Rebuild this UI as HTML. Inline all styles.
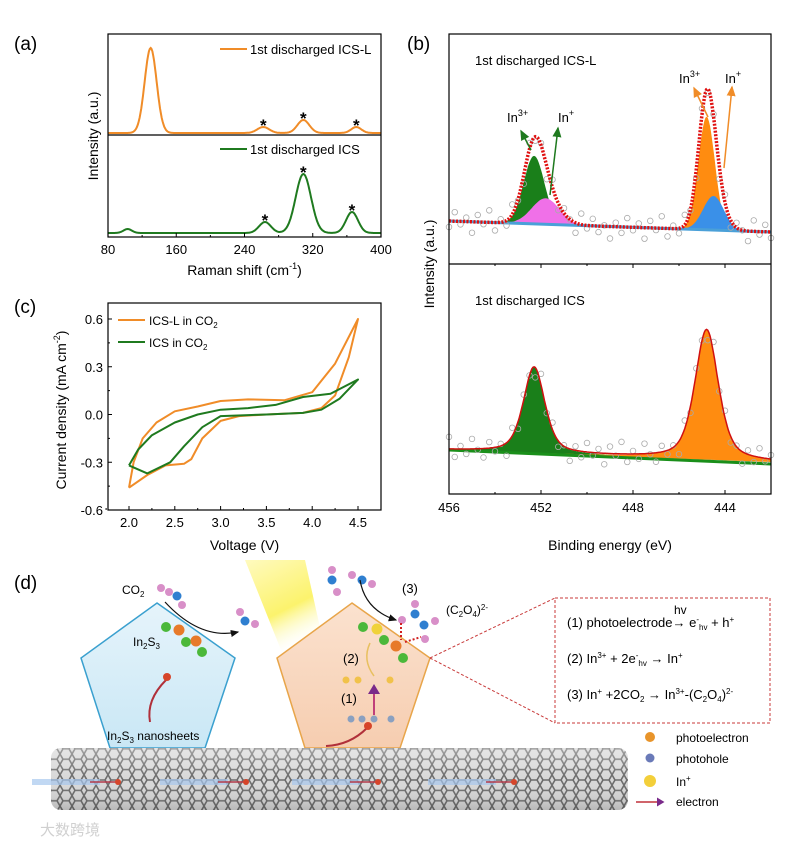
<!DOCTYPE html>
<html><head><meta charset="utf-8">
<style>
html,body{margin:0;padding:0;background:#fff;}
svg{display:block;font-family:"Liberation Sans","Noto Sans CJK SC",sans-serif;}
</style></head>
<body>
<svg id="fig" width="800" height="845" viewBox="0 0 800 845" xmlns="http://www.w3.org/2000/svg">
<defs>
  <pattern id="hex" width="12" height="10.4" patternUnits="userSpaceOnUse">
    <path d="M0 5.2 L3 0 L9 0 L12 5.2 L9 10.4 L3 10.4 Z" fill="none" stroke="#6b6b6b" stroke-width="1.6"/>
  </pattern>
  <linearGradient id="tubeShade" x1="0" y1="0" x2="0" y2="1">
    <stop offset="0" stop-color="#fff" stop-opacity="0.35"/>
    <stop offset="0.5" stop-color="#fff" stop-opacity="0"/>
    <stop offset="1" stop-color="#000" stop-opacity="0.15"/>
  </linearGradient>
  <linearGradient id="bluePent" x1="0" y1="0" x2="0" y2="1">
    <stop offset="0" stop-color="#e6f4fb"/><stop offset="1" stop-color="#c9e7f5"/>
  </linearGradient>
  <linearGradient id="orPent" x1="0" y1="0" x2="0" y2="1">
    <stop offset="0" stop-color="#fbe2cf"/><stop offset="1" stop-color="#f6cdb0"/>
  </linearGradient>
  <linearGradient id="beam" x1="0" y1="0" x2="0.4" y2="1">
    <stop offset="0" stop-color="#fff9b0" stop-opacity="0.9"/><stop offset="0.6" stop-color="#fbf04a" stop-opacity="0.9"/><stop offset="1" stop-color="#fff" stop-opacity="0"/>
  </linearGradient>
  <marker id="arrBlk" markerWidth="8" markerHeight="8" refX="6" refY="4" orient="auto"><path d="M0 1 L7 4 L0 7 Z" fill="#111"/></marker>
  <marker id="arrGrn" markerWidth="8" markerHeight="8" refX="6" refY="4" orient="auto"><path d="M0 1 L7 4 L0 7 Z" fill="#1f7a1f"/></marker>
  <marker id="arrOr" markerWidth="8" markerHeight="8" refX="6" refY="4" orient="auto"><path d="M0 1 L7 4 L0 7 Z" fill="#f08c28"/></marker>
  <marker id="arrPur" markerWidth="6" markerHeight="6" refX="4" refY="3" orient="auto"><path d="M0 0 L5 3 L0 6 Z" fill="#7a2a8a"/></marker>
</defs>

<text x="14" y="50" font-size="19">(a)</text>
<text x="407" y="50" font-size="19">(b)</text>
<text x="14" y="313" font-size="19">(c)</text>
<text x="14" y="589" font-size="19">(d)</text>

<g id="ga"></g>
<g id="gb"></g>
<g id="gc"></g>

<g>
  <polygon points="245,560 305,560 325,650 285,660" fill="url(#beam)" opacity="0.9"/>
  <polygon points="157,603 235,658 205,748 110,748 81,658" fill="url(#bluePent)" stroke="#3aa0cf" stroke-width="1.5"/>
  <polygon points="352,603 430,658 400,748 305,748 277,658" fill="url(#orPent)" stroke="#e8a54a" stroke-width="1.5"/>
  <g>
    <rect x="51" y="748" width="577" height="62" rx="10" fill="#d8d8d8"/>
    <rect x="51" y="748" width="577" height="62" rx="10" fill="url(#hex)"/>
    <rect x="51" y="748" width="577" height="62" rx="10" fill="url(#tubeShade)"/>
    <g stroke="#a8c8ee" stroke-width="6" opacity="0.7">
      <line x1="32" y1="782" x2="100" y2="782"/><line x1="160" y1="782" x2="228" y2="782"/>
      <line x1="292" y1="782" x2="360" y2="782"/><line x1="428" y1="782" x2="496" y2="782"/>
    </g>
    <g stroke="#b23a4a" stroke-width="1.5">
      <line x1="90" y1="782" x2="118" y2="782"/><line x1="218" y1="782" x2="246" y2="782"/>
      <line x1="350" y1="782" x2="378" y2="782"/><line x1="486" y1="782" x2="514" y2="782"/>
    </g>
    <g fill="#d6452a"><circle cx="118" cy="782" r="3"/><circle cx="246" cy="782" r="3"/><circle cx="378" cy="782" r="3"/><circle cx="514" cy="782" r="3"/></g>
  </g>
  <g>
    <circle cx="169" cy="592" r="4" fill="#d88fc8"/><circle cx="161" cy="588" r="4" fill="#d88fc8"/><circle cx="177" cy="596" r="4.5" fill="#2f7fd0"/><circle cx="182" cy="605" r="4" fill="#d88fc8"/>
    <circle cx="240" cy="612" r="4" fill="#d88fc8"/><circle cx="245" cy="621" r="4.5" fill="#2f7fd0"/><circle cx="255" cy="624" r="4" fill="#d88fc8"/>
    <circle cx="332" cy="570" r="4" fill="#d88fc8"/><circle cx="332" cy="580" r="4.5" fill="#2f7fd0"/><circle cx="337" cy="592" r="4" fill="#d88fc8"/>
    <circle cx="352" cy="575" r="4" fill="#d88fc8"/><circle cx="362" cy="580" r="4.5" fill="#2f7fd0"/><circle cx="372" cy="584" r="4" fill="#d88fc8"/>
    <circle cx="415" cy="604" r="4" fill="#d88fc8"/><circle cx="415" cy="614" r="4.5" fill="#2f7fd0"/><circle cx="424" cy="625" r="4.5" fill="#2f7fd0"/><circle cx="435" cy="621" r="4" fill="#d88fc8"/><circle cx="425" cy="639" r="4" fill="#d88fc8"/><circle cx="402" cy="620" r="4" fill="#d88fc8"/>
  </g>
  <g>
    <circle cx="166" cy="627" r="5" fill="#4bb83a"/><circle cx="179" cy="630" r="5.5" fill="#e77a2a"/><circle cx="186" cy="642" r="5" fill="#4bb83a"/><circle cx="196" cy="641" r="5.5" fill="#e77a2a"/><circle cx="202" cy="652" r="5" fill="#4bb83a"/>
    <circle cx="363" cy="627" r="5" fill="#4bb83a"/><circle cx="377" cy="629" r="5.5" fill="#f0d23a"/><circle cx="384" cy="640" r="5" fill="#4bb83a"/><circle cx="396" cy="646" r="5.5" fill="#e77a2a"/><circle cx="403" cy="658" r="5" fill="#4bb83a"/>
    <circle cx="346" cy="680" r="3.5" fill="#f1c24a"/><circle cx="358" cy="680" r="3.5" fill="#f1c24a"/><circle cx="390" cy="680" r="3.5" fill="#f1c24a"/>
    <circle cx="351" cy="719" r="3.5" fill="#8aa0c0"/><circle cx="362" cy="719" r="3.5" fill="#8aa0c0"/><circle cx="374" cy="719" r="3.5" fill="#8aa0c0"/><circle cx="391" cy="719" r="3.5" fill="#8aa0c0"/>
  </g>
  <path d="M165 602 Q200 640 238 632" fill="none" stroke="#111" stroke-width="1.2" marker-end="url(#arrBlk)"/>
  <path d="M360 580 Q365 610 396 620" fill="none" stroke="#111" stroke-width="1.2" marker-end="url(#arrBlk)"/>
  <line x1="374" y1="715" x2="374" y2="686" stroke="#c0407a" stroke-width="2" marker-end="url(#arrPur)"/>
  <path d="M374 676 Q362 660 370 643" fill="none" stroke="#e8c060" stroke-width="1.5"/>
  <path d="M166 680 Q146 700 150 722" fill="none" stroke="#b0303a" stroke-width="2"/><circle cx="167" cy="677" r="4" fill="#d6452a"/>
  <path d="M367 728 Q350 745 326 746" fill="none" stroke="#b0303a" stroke-width="2"/><circle cx="368" cy="726" r="4" fill="#d6452a"/>
  <g stroke="#d02020" stroke-width="2" stroke-dasharray="2,2"><line x1="401" y1="623" x2="401" y2="640"/><line x1="405" y1="642" x2="421" y2="637"/></g>
  <text x="122" y="594" font-size="12">CO<tspan font-size="8" dy="3">2</tspan></text>
  <text x="133" y="646" font-size="12">In<tspan font-size="8" dy="3">2</tspan><tspan dy="-3">S</tspan><tspan font-size="8" dy="3">3</tspan></text>
  <text x="107" y="740" font-size="12">In<tspan font-size="8" dy="3">2</tspan><tspan dy="-3">S</tspan><tspan font-size="8" dy="3">3</tspan><tspan dy="-3"> nanosheets</tspan></text>
  <text x="343" y="663" font-size="13">(2)</text>
  <text x="341" y="703" font-size="13">(1)</text>
  <text x="402" y="593" font-size="13">(3)</text>
  <text x="446" y="614" font-size="12">(C<tspan font-size="8" dy="3">2</tspan><tspan dy="-3">O</tspan><tspan font-size="8" dy="3">4</tspan><tspan dy="-3">)</tspan><tspan font-size="8" dy="-4">2-</tspan></text>
  <g stroke="#c83a3a" stroke-width="1" stroke-dasharray="3,2" fill="none">
    <rect x="555" y="598" width="215" height="125"/>
    <line x1="430" y1="658" x2="555" y2="598"/><line x1="430" y1="658" x2="555" y2="723"/>
  </g>
  <text x="567" y="627" font-size="13">(1) photoelectrode→ e<tspan font-size="8" dy="-5">-</tspan><tspan font-size="8" dy="8">hv</tspan><tspan dy="-3"> + h</tspan><tspan font-size="8" dy="-5">+</tspan></text>
  <text x="674" y="614" font-size="12">hv</text>
  <text x="567" y="663" font-size="13">(2) In<tspan font-size="8" dy="-5">3+</tspan><tspan dy="5"> + 2e</tspan><tspan font-size="8" dy="-5">-</tspan><tspan font-size="8" dy="8">hv</tspan><tspan dy="-3"> → In</tspan><tspan font-size="8" dy="-5">+</tspan></text>
  <text x="567" y="699" font-size="13">(3) In<tspan font-size="8" dy="-5">+</tspan><tspan dy="5"> +2CO</tspan><tspan font-size="8" dy="3">2</tspan><tspan dy="-3"> → In</tspan><tspan font-size="8" dy="-5">3+</tspan><tspan dy="5">-(C</tspan><tspan font-size="8" dy="3">2</tspan><tspan dy="-3">O</tspan><tspan font-size="8" dy="3">4</tspan><tspan dy="-3">)</tspan><tspan font-size="8" dy="-5">2-</tspan></text>
  <g>
    <circle cx="650" cy="737" r="5" fill="#e8942a"/><text x="676" y="742" font-size="12">photoelectron</text>
    <circle cx="650" cy="758" r="4.5" fill="#6a7ab8"/><text x="676" y="763" font-size="12">photohole</text>
    <circle cx="650" cy="781" r="6" fill="#f3cf3a"/><text x="676" y="786" font-size="12">In<tspan font-size="8" dy="-5">+</tspan></text>
    <line x1="636" y1="802" x2="663" y2="802" stroke="#c0303a" stroke-width="1.5" marker-end="url(#arrPur)"/><text x="676" y="806" font-size="12">electron</text>
  </g>
  <text x="40" y="835" font-size="15" fill="#d0d0d0">大数跨境</text>
</g>
</svg>

<script>
const NS='http://www.w3.org/2000/svg';
function mk(tag,attrs,parent){const e=document.createElementNS(NS,tag);for(const k in attrs)e.setAttribute(k,attrs[k]);parent.appendChild(e);return e;}

/* ---------- Panel (a) Raman data ---------- */
const ramanTicks=[80,160,240,320,400];
const ramanL_centers=[130,262,309,371];
const ramanL_heights=[85,6,13,6];
const ramanL_sigmas=[7,7,7,6];
const ramanI_centers=[103,264,309,366];
const ramanI_heights=[4,11,59,21];
const ramanI_sigmas=[5,7,9,7];
const ramanStarsL=[262,309,371];
const ramanStarsI=[264,309,366];

/* ---------- Panel (b) XPS data ---------- */
const xpsTicks=[456,452,448,444];
const xpsTop_centers=[452.3,451.8,444.8,444.5];
const xpsTop_heights=[68,26,113,34];
const xpsTop_sigmas=[0.45,0.6,0.36,0.45];
const xpsTop_colors=['#1a7f1a','#f070e8','#ff8c10','#3a90e8'];
const xpsBot_centers=[452.3,444.8];
const xpsBot_heights=[86,130];
const xpsBot_widths=[0.55,0.6];
const xpsNoise=[6,-9,3,-4,11,-7,2,-12,8,-3,5,-10,1,9,-6,4,-2,13,-8,7,-5,0,10,-11,3,-7,6,-1,12,-4];

/* ---------- Panel (c) CV data ---------- */
const cvTicksX=[2.0,2.5,3.0,3.5,4.0,4.5];
const cvTicksY=[-0.6,-0.3,0.0,0.3,0.6];
const cvL_V=[2.0,2.05,2.15,2.3,2.5,2.75,3.0,3.3,3.7,4.0,4.25,4.5,4.4,4.25,4.1,3.9,3.5,3.2,3.0,2.8,2.68,2.6,2.4,2.2,2.0];
const cvL_J=[-0.46,-0.3,-0.15,-0.05,0.02,0.05,0.085,0.095,0.09,0.14,0.32,0.6,0.36,0.12,0.04,0.01,0.0,-0.01,-0.04,-0.15,-0.28,-0.31,-0.32,-0.38,-0.46];
const cvI_V=[2.0,2.1,2.25,2.5,2.75,3.0,3.3,3.6,3.9,4.2,4.5,4.3,4.1,3.9,3.5,3.0,2.8,2.6,2.45,2.2,2.0];
const cvI_J=[-0.32,-0.22,-0.13,-0.05,0.0,0.03,0.04,0.06,0.11,0.13,0.22,0.1,0.03,0.01,0.0,-0.01,-0.08,-0.2,-0.3,-0.37,-0.32];

function gauss(x,c,h,s){return h*Math.exp(-0.5*((x-c)/s)**2);}
function pv(x,c,h,w){const g=Math.exp(-0.693*((x-c)/w)**2),l=1/(1+((x-c)/w)**2);return h*(0.5*g+0.5*l);}

(function(){
  const g=document.getElementById('ga');
  const L=108,R=381,T=34,B=237,M=135;
  const X=v=>L+(v-80)*(R-L)/320;
  const YL=i=>133-i, YI=i=>233-i;
  function curve(cs,hs,ss,Y,col,name){
    let d='';for(let v=80;v<=400;v+=1){let s=0;for(let k=0;k<cs.length;k++)s+=gauss(v,cs[k],hs[k],ss[k]);d+=(v===80?'M':'L')+X(v).toFixed(1)+' '+Y(s).toFixed(1);}
    const p=mk('path',{d:d,fill:'none',stroke:col,'stroke-width':2},g);
    
    
  }
  curve(ramanL_centers,ramanL_heights,ramanL_sigmas,YL,'#f08c28','raman-ics-l-line');
  curve(ramanI_centers,ramanI_heights,ramanI_sigmas,YI,'#1f7a1f','raman-ics-line');
  function stars(arr,cs,hs,ss,Y){arr.forEach(c=>{let s=0;for(let k=0;k<cs.length;k++)s+=gauss(c,cs[k],hs[k],ss[k]);const t=mk('text',{x:X(c),y:Y(s)+4,'font-size':17,'text-anchor':'middle','font-weight':'bold'},g);t.textContent='*';
    
    });}
  stars(ramanStarsL,ramanL_centers,ramanL_heights,ramanL_sigmas,YL);
  stars(ramanStarsI,ramanI_centers,ramanI_heights,ramanI_sigmas,YI);
  const f=mk('rect',{x:L,y:T,width:R-L,height:B-T,fill:'none',stroke:'#000','stroke-width':1.2},g);
  
  
  mk('line',{x1:L,y1:M,x2:R,y2:M,stroke:'#000','stroke-width':1.2},g);
  ramanTicks.forEach((v,i)=>{mk('line',{x1:X(v),y1:B,x2:X(v),y2:B-4,stroke:'#000'},g);
    if(i<ramanTicks.length-1) mk('line',{x1:X(v+40),y1:B,x2:X(v+40),y2:B-2,stroke:'#000'},g);
    const t=mk('text',{x:X(v),y:B+17,'font-size':13,'text-anchor':'middle'},g);t.textContent=v;
    
    });
  const xt=mk('text',{x:(L+R)/2,y:275,'font-size':14,'text-anchor':'middle'},g);
  xt.innerHTML='Raman shift (cm<tspan font-size="9" dy="-6">-1</tspan><tspan dy="6">)</tspan>';
  
  
  const yt=mk('text',{x:0,y:0,'font-size':14,'text-anchor':'middle',transform:'translate(98,136) rotate(-90)'},g);yt.textContent='Intensity (a.u.)';
  
  
  [['#f08c28','1st discharged ICS-L',49],['#1f7a1f','1st discharged ICS',149]].forEach(([c,s,y])=>{
    mk('line',{x1:220,y1:y,x2:247,y2:y,stroke:c,'stroke-width':2},g);
    const t=mk('text',{x:250,y:y+5,'font-size':13},g);t.textContent=s;
    
    });
})();

(function(){
  const g=document.getElementById('gb');
  const L=449,R=771,T=34,B=494,M=264;
  const X=e=>L+(456-e)*(R-L)/14;
  const baseT=e=>221+(456-e)*11/14, baseB=e=>450+(456-e)*12/14;
  const E=[];for(let e=456;e>=442-1e-9;e-=0.05)E.push(+e.toFixed(2));
  xpsTop_centers.forEach((c,k)=>{
    let d='M'+X(456)+' '+baseT(456);
    E.forEach(e=>{d+='L'+X(e).toFixed(1)+' '+(baseT(e)-gauss(e,c,xpsTop_heights[k],xpsTop_sigmas[k])).toFixed(1);});
    d+='L'+X(442)+' '+baseT(442)+'Z';
    const p=mk('path',{d:d,fill:xpsTop_colors[k],stroke:'none'},g);
    
    
  });
  mk('line',{x1:X(456),y1:baseT(456),x2:X(442),y2:baseT(442),stroke:'#4aa0d8','stroke-width':3},g);
  const sumT=e=>{let s=0;xpsTop_centers.forEach((c,k)=>s+=gauss(e,c,xpsTop_heights[k],xpsTop_sigmas[k]));return s;};
  E.forEach((e,i)=>{if(i%5)return;const n=xpsNoise[(i/5)%xpsNoise.length];
    const c=mk('circle',{cx:X(e),cy:baseT(e)-sumT(e)+n,r:2.8,fill:'none',stroke:'#aaa','stroke-width':0.8},g);
    
    });
  let dT='';E.forEach((e,i)=>{dT+=(i?'L':'M')+X(e).toFixed(1)+' '+(baseT(e)-sumT(e)).toFixed(1);});
  const env=mk('path',{d:dT,fill:'none',stroke:'#e01010','stroke-width':3.5,'stroke-dasharray':'2,1.5'},g);
  
  
  const bcol=['#1a7f1a','#ff8c10'];
  xpsBot_centers.forEach((c,k)=>{
    let d='M'+X(456)+' '+baseB(456);
    E.forEach(e=>{d+='L'+X(e).toFixed(1)+' '+(baseB(e)-pv(e,c,xpsBot_heights[k],xpsBot_widths[k])).toFixed(1);});
    d+='L'+X(442)+' '+baseB(442)+'Z';
    const p=mk('path',{d:d,fill:bcol[k],stroke:'none'},g);
    
    
  });
  mk('line',{x1:X(456),y1:baseB(456),x2:X(442),y2:baseB(442)+2,stroke:'#1a8f1a','stroke-width':3},g);
  const sumB=e=>{let s=0;xpsBot_centers.forEach((c,k)=>s+=pv(e,c,xpsBot_heights[k],xpsBot_widths[k]));return s;};
  E.forEach((e,i)=>{if(i%5)return;const n=xpsNoise[(i/5+7)%xpsNoise.length];
    const c=mk('circle',{cx:X(e),cy:baseB(e)-sumB(e)+n,r:2.8,fill:'none',stroke:'#aaa','stroke-width':0.8},g);
    
    });
  let dB='';E.forEach((e,i)=>{dB+=(i?'L':'M')+X(e).toFixed(1)+' '+(baseB(e)-sumB(e)).toFixed(1);});
  const envB=mk('path',{d:dB,fill:'none',stroke:'#d01010','stroke-width':1.5},g);
  
  
  const f=mk('rect',{x:L,y:T,width:R-L,height:B-T,fill:'none',stroke:'#000','stroke-width':1.2},g);
  
  
  mk('line',{x1:L,y1:M,x2:R,y2:M,stroke:'#000','stroke-width':1.2},g);
  xpsTicks.forEach(v=>{mk('line',{x1:X(v),y1:B,x2:X(v),y2:B-4,stroke:'#000'},g);mk('line',{x1:X(v),y1:M,x2:X(v),y2:M+4,stroke:'#000'},g);
    mk('line',{x1:X(v-2),y1:B,x2:X(v-2),y2:B-2,stroke:'#000'},g);mk('line',{x1:X(v-2),y1:M,x2:X(v-2),y2:M+2,stroke:'#000'},g);
    const t=mk('text',{x:X(v),y:B+18,'font-size':13,'text-anchor':'middle'},g);t.textContent=v;
    
    });
  const xt=mk('text',{x:(L+R)/2,y:550,'font-size':14,'text-anchor':'middle'},g);xt.textContent='Binding energy (eV)';
  
  
  const yt=mk('text',{x:0,y:0,'font-size':14,'text-anchor':'middle',transform:'translate(434,264) rotate(-90)'},g);yt.textContent='Intensity (a.u.)';
  
  
  const t1=mk('text',{x:475,y:65,'font-size':13},g);t1.textContent='1st discharged ICS-L';
  
  
  const t2=mk('text',{x:475,y:305,'font-size':13},g);t2.textContent='1st discharged ICS';
  
  
  mk('line',{x1:531,y1:150,x2:521,y2:131,stroke:'#1f7a1f','stroke-width':1.5,'marker-end':'url(#arrGrn)'},g);
  mk('line',{x1:550,y1:195,x2:558,y2:128,stroke:'#1f7a1f','stroke-width':1.5,'marker-end':'url(#arrGrn)'},g);
  mk('line',{x1:708,y1:117,x2:694,y2:88,stroke:'#f08c28','stroke-width':1.5,'marker-end':'url(#arrOr)'},g);
  mk('line',{x1:724,y1:168,x2:732,y2:87,stroke:'#f08c28','stroke-width':1.5,'marker-end':'url(#arrOr)'},g);
  [['In<tspan font-size="9" dy="-6">3+</tspan>',507,122],['In<tspan font-size="9" dy="-6">+</tspan>',558,122],['In<tspan font-size="9" dy="-6">3+</tspan>',679,83],['In<tspan font-size="9" dy="-6">+</tspan>',725,83]].forEach(([h,x,y])=>{
    const t=mk('text',{x:x,y:y,'font-size':13},g);t.innerHTML=h;
    
    });
})();

(function(){
  const g=document.getElementById('gc');
  const L=108,R=381,T=303,B=510;
  const X=v=>129+(v-2.0)*(358-129)/2.5;
  const Y=j=>414.5-j*(510-319)/1.2;
  function line(V,J,col,name){let d='';V.forEach((v,i)=>{d+=(i?'L':'M')+X(v).toFixed(1)+' '+Y(J[i]).toFixed(1);});
    const p=mk('path',{d:d,fill:'none',stroke:col,'stroke-width':2,'stroke-linejoin':'round'},g);
    
    }
  line(cvL_V,cvL_J,'#f08c28','cv-ics-l-line');
  line(cvI_V,cvI_J,'#1f7a1f','cv-ics-line');
  const f=mk('rect',{x:L,y:T,width:R-L,height:B-T,fill:'none',stroke:'#000','stroke-width':1.2},g);
  
  
  cvTicksX.forEach(v=>{mk('line',{x1:X(v),y1:B,x2:X(v),y2:B-4,stroke:'#000'},g);
    mk('line',{x1:X(v-0.25),y1:B,x2:X(v-0.25),y2:B-2,stroke:'#000'},g);
    const t=mk('text',{x:X(v),y:B+17,'font-size':13,'text-anchor':'middle'},g);t.textContent=v.toFixed(1);
    
    });
  cvTicksY.forEach((v,i)=>{mk('line',{x1:L,y1:Y(v),x2:L+4,y2:Y(v),stroke:'#000'},g);
    if(i<cvTicksY.length-1) mk('line',{x1:L,y1:Y(v+0.15),x2:L+2,y2:Y(v+0.15),stroke:'#000'},g);
    const t=mk('text',{x:L-5,y:Y(v)+5,'font-size':13,'text-anchor':'end'},g);t.textContent=v.toFixed(1);
    
    });
  const xt=mk('text',{x:(L+R)/2,y:550,'font-size':14,'text-anchor':'middle'},g);xt.textContent='Voltage (V)';
  
  
  const yt=mk('text',{x:0,y:0,'font-size':14,'text-anchor':'middle',transform:'translate(66,410) rotate(-90)'},g);
  yt.innerHTML='Current density (mA cm<tspan font-size="9" dy="-6">-2</tspan><tspan dy="6">)</tspan>';
  
  
  [['#f08c28','ICS-L in CO',320],['#1f7a1f','ICS in CO',342]].forEach(([c,s,y])=>{
    mk('line',{x1:118,y1:y,x2:145,y2:y,stroke:c,'stroke-width':2},g);
    const t=mk('text',{x:149,y:y+5,'font-size':12},g);t.innerHTML=s+'<tspan font-size="8" dy="3">2</tspan>';
    
    });
})();
</script>
</body></html>
